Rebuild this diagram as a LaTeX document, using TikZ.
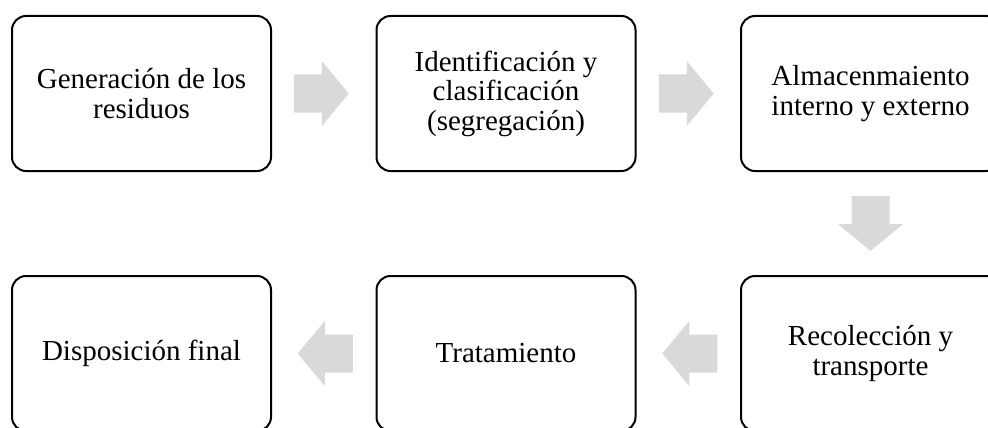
\documentclass[tikz,border=0pt]{standalone}
\usepackage{fontspec}
\setmainfont{Liberation Serif}
\usetikzlibrary{calc}
\definecolor{arrowgray}{HTML}{D9D9D9}
\tikzset{
  stepbox/.style={draw=black, line width=2pt, rounded corners=14pt, minimum width=259pt, minimum height=155pt, align=center, inner sep=0pt, font=\fontsize{29}{29.5}\selectfont},
  fatarrow/.pic={\fill[arrowgray] (-27.5,-19) -- (0.5,-19) -- (0.5,-32.5) -- (27.5,0) -- (0.5,32.5) -- (0.5,19) -- (-27.5,19) -- cycle;}
}
\begin{document}
\begin{tikzpicture}[x=1pt,y=-1pt]
\useasboundingbox (0,0) rectangle (988,428);
\node[stepbox] (b1) at (141.5,93.5) {Generación de los\\residuos};
\node[stepbox] (b2) at (506,93.5) {Identificación y\\clasificación\\(segregación)};
\node[stepbox] (b3) at (870.5,93.5) {Almacenmaiento\\interno y externo};
\node[stepbox] (b6) at (870.5,353.5) {Recolección y\\transporte};
\node[stepbox] (b5) at (506,353.5) {Tratamiento};
\node[stepbox] (b4) at (141.5,353.5) {Disposición final};
\path ($(b1.east)!0.5!(b2.west)+(-2.5,0)$) pic {fatarrow};
\path ($(b2.east)!0.5!(b3.west)+(-2,0)$) pic {fatarrow};
\path ($(b3.south)!0.5!(b6.north)$) pic[rotate=-90] {fatarrow};
\path ($(b6.west)!0.5!(b5.east)+(1.5,0)$) pic[rotate=180] {fatarrow};
\path ($(b5.west)!0.5!(b4.east)+(1.5,0)$) pic[rotate=180] {fatarrow};
\end{tikzpicture}
\end{document}
